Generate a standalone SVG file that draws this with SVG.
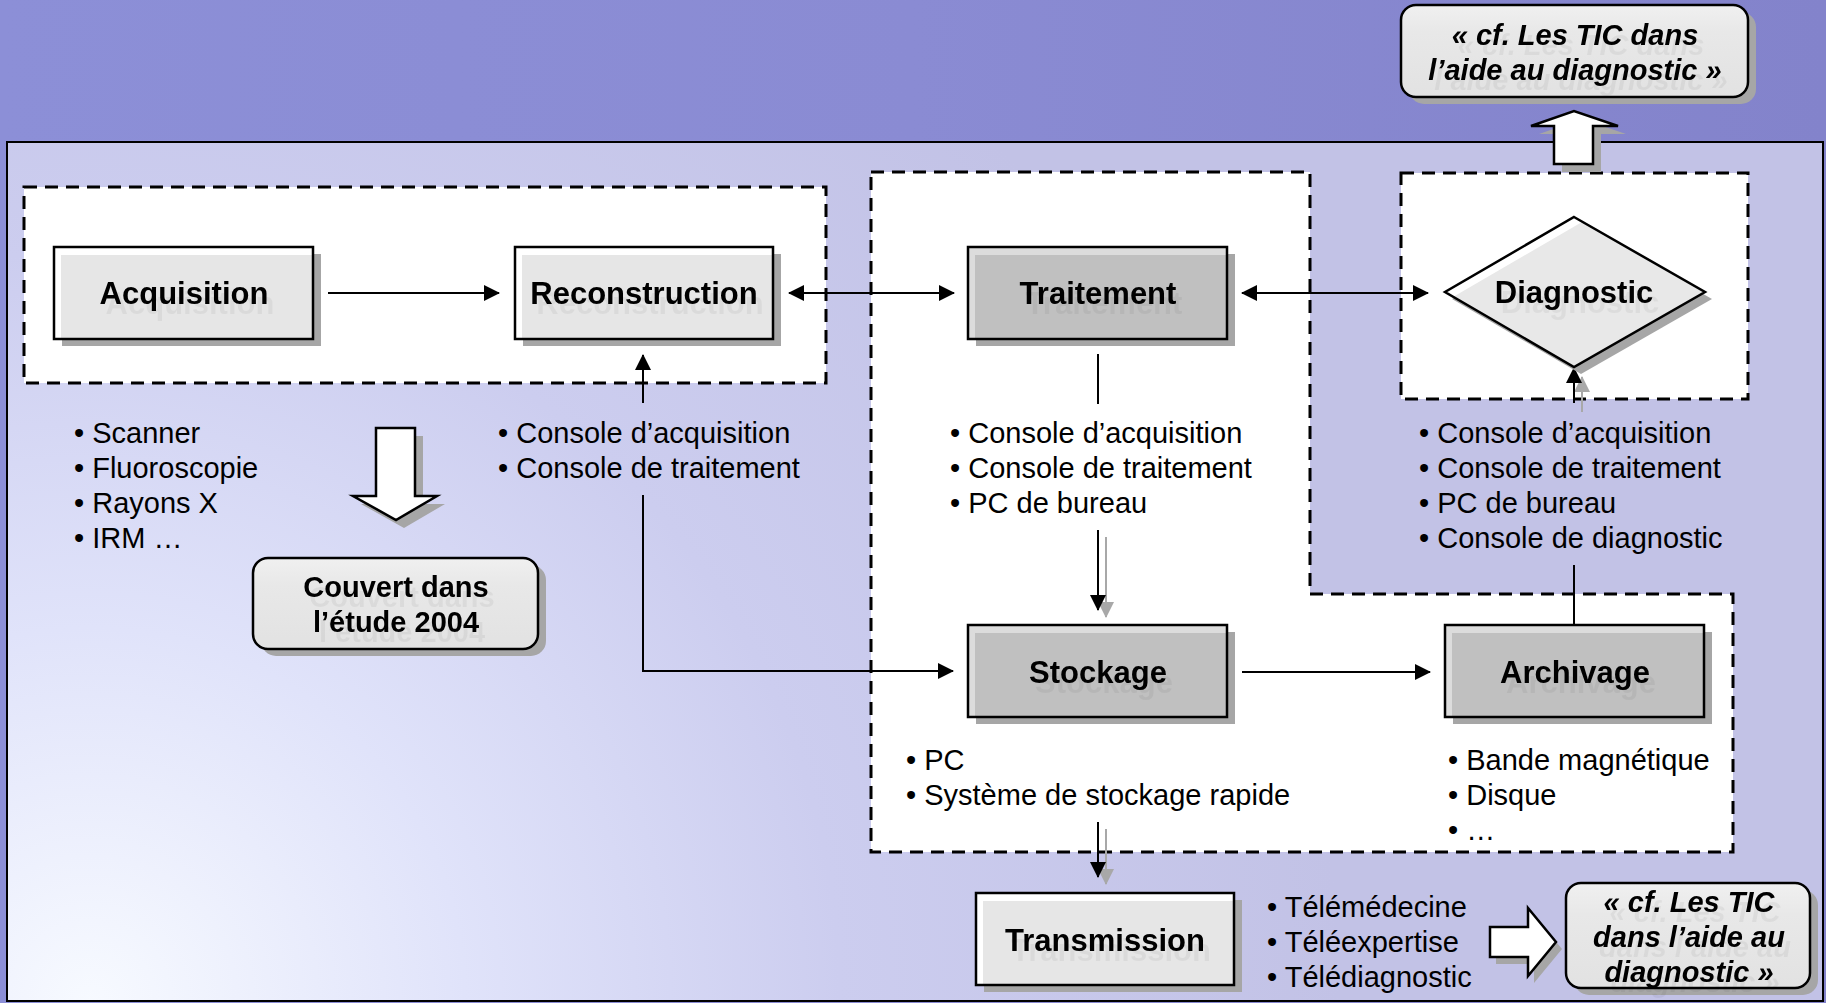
<svg xmlns="http://www.w3.org/2000/svg" width="1826" height="1003" viewBox="0 0 1826 1003">
  <defs>
    <linearGradient id="skyBg" x1="0" y1="0" x2="1" y2="0">
      <stop offset="0" stop-color="#8c8fd7"/>
      <stop offset="0.5" stop-color="#8a8bd3"/>
      <stop offset="1" stop-color="#8383cb"/>
    </linearGradient>
    <radialGradient id="panelBg" gradientUnits="userSpaceOnUse" cx="90" cy="1003" r="1250">
      <stop offset="0" stop-color="#f7faff"/>
      <stop offset="0.3" stop-color="#e0e3fa"/>
      <stop offset="0.6" stop-color="#cccdef"/>
      <stop offset="1" stop-color="#c2c2e6"/>
    </radialGradient>
    <linearGradient id="roundFill" x1="0" y1="0" x2="0" y2="1">
      <stop offset="0" stop-color="#f0f0f0"/>
      <stop offset="0.3" stop-color="#e8e8e8"/>
      <stop offset="1" stop-color="#e2e2e2"/>
    </linearGradient>
    <filter id="ghost" x="-10%" y="-30%" width="130%" height="180%">
      <feOffset in="SourceAlpha" dx="6" dy="10" result="off"/>
      <feFlood flood-color="#000" flood-opacity="0.05"/>
      <feComposite in2="off" operator="in" result="sh"/>
      <feMerge>
        <feMergeNode in="sh"/>
        <feMergeNode in="SourceGraphic"/>
      </feMerge>
    </filter>
    <marker id="head" viewBox="0 0 16 16" markerWidth="16" markerHeight="16" refX="15" refY="8" orient="auto-start-reverse" markerUnits="userSpaceOnUse">
      <path d="M0,0 L16,8 L0,16 Z" fill="#000"/>
    </marker>
    <marker id="headShadow" viewBox="0 0 16 16" markerWidth="16" markerHeight="16" refX="15" refY="8" orient="auto" markerUnits="userSpaceOnUse">
      <path d="M0,0 L16,8 L0,16 Z" fill="#a8a8a8"/>
    </marker>
    <clipPath id="diamondClip">
      <polygon points="1574,217 1705,292 1574,367 1445,292"/>
    </clipPath>
    <style>
      text { font-family: "Liberation Sans", Arial, Helvetica, sans-serif; fill: #000; }
      .title { font-size: 31px; font-weight: bold; text-anchor: middle; }
      .note { font-size: 29px; font-weight: bold; text-anchor: middle; }
      .ref { font-size: 29px; font-weight: bold; font-style: italic; text-anchor: middle; }
      .item { font-size: 29px; }
      .zone { fill: #fff; stroke: #000; stroke-width: 3; stroke-dasharray: 13 8; }
      .shadow { fill: #a6a6a6; }
      .edge { fill: none; stroke: #000; stroke-width: 2.5; }
      .light { fill: #e6e6e6; }
      .dark { fill: #c0c0c0; }
      .bevel-light { fill: #ffffff; }
      .bevel-dark { fill: #dcdcdc; }
      .rounded { fill: url(#roundFill); stroke: #000; stroke-width: 2.5; }
      .wire { fill: none; stroke: #000; stroke-width: 2; }
      .wire-shadow { fill: none; stroke: #a8a8a8; stroke-width: 2; }
      .block { fill: #fff; stroke: #000; stroke-width: 2.5; stroke-linejoin: miter; }
    </style>
  </defs>

  <!-- backdrop -->
  <rect x="0" y="0" width="1826" height="1003" fill="url(#skyBg)"/>
  <rect x="7" y="142" width="1816" height="859" fill="url(#panelBg)" stroke="#000" stroke-width="2"/>

  <!-- dashed zones -->
  <g id="zones">
    <rect class="zone" x="24" y="187" width="802" height="196"/>
    <path class="zone" d="M871,172 H1310 V594 H1733 V852 H871 Z"/>
    <rect class="zone" x="1401" y="173" width="347" height="226"/>
  </g>

  <!-- connectors -->
  <g id="connectors">
    <line class="wire" x1="328" y1="293" x2="499" y2="293" marker-end="url(#head)"/>
    <line class="wire" x1="789" y1="293" x2="954" y2="293" marker-start="url(#head)" marker-end="url(#head)"/>
    <line class="wire" x1="1242" y1="293" x2="1428" y2="293" marker-start="url(#head)" marker-end="url(#head)"/>
    <line class="wire" x1="643" y1="403" x2="643" y2="355" marker-end="url(#head)"/>
    <path class="wire" d="M643,495 V671 H953" marker-end="url(#head)"/>
    <line class="wire" x1="1098" y1="354" x2="1098" y2="404"/>
    <line class="wire-shadow" x1="1106" y1="537" x2="1106" y2="617" marker-end="url(#headShadow)"/>
    <line class="wire" x1="1098" y1="530" x2="1098" y2="610" marker-end="url(#head)"/>
    <line class="wire" x1="1242" y1="672" x2="1430" y2="672" marker-end="url(#head)"/>
    <line class="wire" x1="1574" y1="625" x2="1574" y2="565"/>
    <line class="wire-shadow" x1="1582" y1="412" x2="1582" y2="377" marker-end="url(#headShadow)"/>
    <line class="wire" x1="1574" y1="403" x2="1574" y2="368" marker-end="url(#head)"/>
    <line class="wire-shadow" x1="1106" y1="829" x2="1106" y2="884" marker-end="url(#headShadow)"/>
    <line class="wire" x1="1098" y1="822" x2="1098" y2="877" marker-end="url(#head)"/>

    <!-- block arrows -->
    <polygon class="shadow" points="384,436 423,436 423,504 445,504 404,528 361,504 384,504"/>
    <polygon class="block" points="376,428 415,428 415,496 437,496 396,520 353,496 376,496"/>
    <polygon class="shadow" points="1562,172 1601,172 1601,134 1626,134 1582,119 1539,134 1562,134"/>
    <polygon class="block" points="1554,164 1593,164 1593,126 1618,126 1574,111 1531,126 1554,126"/>
    <polygon class="shadow" points="1496,934 1534,934 1534,915 1562,949 1534,983 1534,964 1496,964"/>
    <polygon class="block" points="1490,927 1528,927 1528,908 1556,942 1528,976 1528,957 1490,957"/>
  </g>

  <!-- process nodes -->
  <g id="acquisition">
    <rect class="shadow" x="62" y="254" width="259" height="92"/>
    <rect class="bevel-light" x="54" y="247" width="259" height="92"/>
    <rect class="light" x="61" y="255" width="252" height="84"/>
    <rect class="edge" x="54" y="247" width="259" height="92"/>
    <text class="title" x="184" y="304" filter="url(#ghost)">Acquisition</text>
  </g>

  <g id="reconstruction">
    <rect class="shadow" x="523" y="254" width="258" height="92"/>
    <rect class="bevel-light" x="515" y="247" width="258" height="92"/>
    <rect class="light" x="522" y="255" width="251" height="84"/>
    <rect class="edge" x="515" y="247" width="258" height="92"/>
    <text class="title" x="644" y="304" filter="url(#ghost)">Reconstruction</text>
  </g>

  <g id="traitement">
    <rect class="shadow" x="976" y="254" width="259" height="92"/>
    <rect class="bevel-dark" x="968" y="247" width="259" height="92"/>
    <rect class="dark" x="975" y="255" width="252" height="84"/>
    <rect class="edge" x="968" y="247" width="259" height="92"/>
    <text class="title" x="1098" y="304" filter="url(#ghost)">Traitement</text>
  </g>

  <g id="diagnostic">
    <polygon class="shadow" points="1581,224 1712,299 1581,374 1452,299"/>
    <polygon fill="#fff" points="1574,217 1705,292 1574,367 1445,292"/>
    <polygon fill="#e8e8e8" clip-path="url(#diamondClip)" points="1582,222 1713,297 1582,372 1453,297"/>
    <polygon class="edge" points="1574,217 1705,292 1574,367 1445,292"/>
    <text class="title" x="1574" y="303" filter="url(#ghost)">Diagnostic</text>
  </g>

  <g id="stockage">
    <rect class="shadow" x="976" y="632" width="259" height="92"/>
    <rect class="bevel-dark" x="968" y="625" width="259" height="92"/>
    <rect class="dark" x="975" y="633" width="252" height="84"/>
    <rect class="edge" x="968" y="625" width="259" height="92"/>
    <text class="title" x="1098" y="683" filter="url(#ghost)">Stockage</text>
  </g>

  <g id="archivage">
    <rect class="shadow" x="1453" y="632" width="259" height="92"/>
    <rect class="bevel-dark" x="1445" y="625" width="259" height="92"/>
    <rect class="dark" x="1452" y="633" width="252" height="84"/>
    <rect class="edge" x="1445" y="625" width="259" height="92"/>
    <text class="title" x="1575" y="683" filter="url(#ghost)">Archivage</text>
  </g>

  <g id="transmission">
    <rect class="shadow" x="984" y="900" width="258" height="92"/>
    <rect class="bevel-light" x="976" y="893" width="258" height="92"/>
    <rect class="light" x="983" y="901" width="251" height="84"/>
    <rect class="edge" x="976" y="893" width="258" height="92"/>
    <text class="title" x="1105" y="951" filter="url(#ghost)">Transmission</text>
  </g>

  <!-- notes and references -->
  <g id="couvert">
    <rect class="shadow" x="261" y="565" width="285" height="91" rx="15"/>
    <rect class="rounded" x="253" y="558" width="285" height="91" rx="15"/>
    <text class="note" x="396" y="597" filter="url(#ghost)">Couvert dans</text>
    <text class="note" x="396" y="632" filter="url(#ghost)">l’étude 2004</text>
  </g>

  <g id="ref-top">
    <rect class="shadow" x="1409" y="12" width="347" height="92" rx="15"/>
    <rect class="rounded" x="1401" y="5" width="347" height="92" rx="15"/>
    <text class="ref" x="1575" y="45" filter="url(#ghost)">« cf. Les TIC dans</text>
    <text class="ref" x="1575" y="80" filter="url(#ghost)">l’aide au diagnostic »</text>
  </g>

  <g id="ref-bottom">
    <rect class="shadow" x="1574" y="890" width="244" height="105" rx="15"/>
    <rect class="rounded" x="1566" y="883" width="244" height="105" rx="15"/>
    <text class="ref" x="1689" y="912" filter="url(#ghost)">« cf. Les TIC</text>
    <text class="ref" x="1689" y="947" filter="url(#ghost)">dans l’aide au</text>
    <text class="ref" x="1689" y="982" filter="url(#ghost)">diagnostic »</text>
  </g>

  <!-- equipment lists -->
  <g id="list-acquisition">
    <text class="item" x="74" y="443">• Scanner</text>
    <text class="item" x="74" y="478">• Fluoroscopie</text>
    <text class="item" x="74" y="513">• Rayons X</text>
    <text class="item" x="74" y="548">• IRM …</text>
  </g>
  <g id="list-reconstruction">
    <text class="item" x="498" y="443">• Console d’acquisition</text>
    <text class="item" x="498" y="478">• Console de traitement</text>
  </g>
  <g id="list-traitement">
    <text class="item" x="950" y="443">• Console d’acquisition</text>
    <text class="item" x="950" y="478">• Console de traitement</text>
    <text class="item" x="950" y="513">• PC de bureau</text>
  </g>
  <g id="list-diagnostic">
    <text class="item" x="1419" y="443">• Console d’acquisition</text>
    <text class="item" x="1419" y="478">• Console de traitement</text>
    <text class="item" x="1419" y="513">• PC de bureau</text>
    <text class="item" x="1419" y="548">• Console de diagnostic</text>
  </g>
  <g id="list-stockage">
    <text class="item" x="906" y="770">• PC</text>
    <text class="item" x="906" y="805">• Système de stockage rapide</text>
  </g>
  <g id="list-archivage">
    <text class="item" x="1448" y="770">• Bande magnétique</text>
    <text class="item" x="1448" y="805">• Disque</text>
    <text class="item" x="1448" y="840">• …</text>
  </g>
  <g id="list-transmission">
    <text class="item" x="1267" y="917">• Télémédecine</text>
    <text class="item" x="1267" y="952">• Téléexpertise</text>
    <text class="item" x="1267" y="987">• Télédiagnostic</text>
  </g>
</svg>
